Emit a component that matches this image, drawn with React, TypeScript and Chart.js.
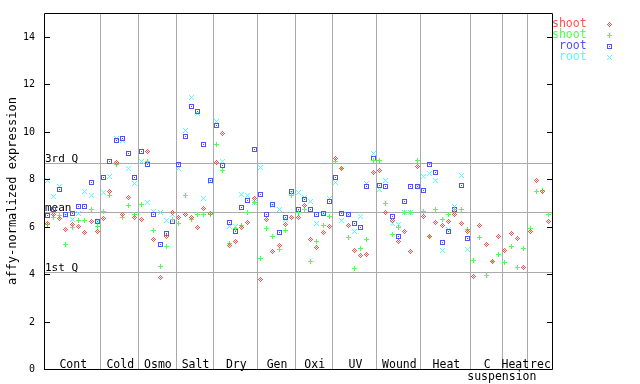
import React, { useEffect, useRef } from "react";
import { Chart, registerables } from "chart.js";
Chart.register(...registerables);

const groupLabels = ["Cont", "Cold", "Osmo", "Salt", "Dry", "Gen", "Oxi", "UV", "Wound", "Heat", "C", "Heat", "rec"];
const groupSizes = [9, 6, 6, 6, 7, 6, 6, 7, 7, 8, 5, 4, 4];
const subLabelGroup = 10;
const subLabel = "suspension";
const yTicks = [0, 2, 4, 6, 8, 10, 12, 14];
const quartileLabels = ["3rd Q", "mean", "1st Q"];
const quartileValues = [8.69, 6.62, 4.09];
const seriesNames = ["shoot", "shoot", "root", "root"];

const shootA = [
  6.15, 6.5, 6.35, 5.89, 6.1, 6.02, 5.76, 6.21, 5.79,
  6.33, 7.5, 8.72, 6.5, 7.24, 6.4,
  6.3, 9.17, 5.47, 3.84, 5.6, 6.6,
  6.4, 6.53, 6.4, 5.98, 6.78, 6.57,
  8.72, 9.94, 5.22, 5.39, 5.98, 6.19, 7.2,
  3.78, 6.29, 4.97, 5.19, 6.1, 6.4,
  6.4, 6.9, 5.47, 5.14, 5.77, 6.02,
  8.89, 8.43, 6.06, 5.01, 4.8, 4.84, 8.3,
  8.38, 6.61, 6.27, 5.39, 5.81, 4.97, 8.55,
  6.44, 5.6, 6.19, 6.06, 6.23, 6.49, 6.15, 5.81,
  3.91, 6.06, 5.26, 4.54, 5.6,
  5.01, 5.73, 5.51, 4.29,
  5.81, 7.96, 7.5, 6.23,
];
const shootB = [
  6.08, 6.38, 6.45, 5.26, 5.97, 6.26, 6.26, 6.7, 6.0,
  6.62, 7.29, 8.63, 6.4, 6.9, 6.5,
  6.95, 8.76, 5.83, 4.33, 5.18, 6.3,
  6.15, 7.33, 6.32, 6.49, 6.49, 6.53,
  9.48, 8.38, 5.3, 5.9, 6.06, 6.61, 7.03,
  4.67, 5.94, 5.6, 5.05, 5.85, 7.29,
  6.6, 6.7, 4.54, 5.39, 6.06, 6.44,
  8.76, 8.43, 5.56, 4.25, 5.09, 5.47, 8.8,
  8.8, 6.99, 5.68, 5.98, 6.6, 6.6, 8.8,
  6.65, 5.6, 6.7, 6.32, 6.49, 6.74, 6.74, 5.89,
  4.59, 5.56, 3.95, 4.54, 4.84,
  4.5, 5.18, 4.29, 5.09,
  5.94, 7.5, 7.54, 6.53,
];
const rootA = [
  6.45, 6.71, 7.55, 6.51, 6.55, 6.86, 6.83, 7.84, 6.21,
  8.05, 8.76, 9.63, 9.7, 9.06, 8.05,
  9.17, 8.63, 6.5, 5.26, 5.72, 6.23,
  8.63, 9.78, 11.04, 10.83, 9.48, 7.96,
  10.28, 8.58, 6.17, 5.81, 6.82, 7.12, 9.24,
  7.37, 6.49, 6.92, 5.77, 6.4, 7.5,
  6.74, 7.13, 6.7, 6.53, 6.57, 7.05,
  8.06, 6.54, 6.49, 6.15, 5.98, 7.71, 8.89,
  7.75, 7.71, 6.44, 5.6, 7.07, 7.71, 7.71,
  7.54, 8.63, 8.26, 5.35, 5.81, 6.74, 7.75, 5.51,
  null, null, null, null, null,
  null, null, null, null,
  null, null, null, null,
];
const rootB = [
  7.93, 7.27, 7.7, 6.45, 6.3, 6.56, 7.49, 7.32, 6.2,
  7.44, 8.13, 9.7, 9.63, 8.43, 7.8,
  8.76, 7.0, 6.65, 6.6, 6.27, 6.5,
  8.43, 10.03, 11.46, 10.75, 7.2, 7.9,
  10.41, 8.76, 6.0, 6.0, 7.37, 7.29, 7.0,
  8.47, 6.4, 6.9, 6.7, 6.3, 7.45,
  7.45, 7.24, 7.07, 6.15, 6.57, 7.2,
  7.86, 6.27, 6.5, 5.81, 6.44, 7.83, 9.1,
  7.58, 7.96, 6.15, 6.1, 6.61, 6.61, 7.71,
  8.13, 8.22, 7.96, 5.01, 5.89, 6.86, 8.17, 5.05,
  null, null, null, null, null,
  null, null, null, null,
  null, null, null, null,
];

const COLORS = ["#ff5050", "#50ff50", "#5050ff", "#50ffff"];
const PATTERNS = [
  ["..#..", ".#.#.", "#.#.#", ".#.#.", "..#.."],
  ["..#..", "..#..", "#####", "..#..", "..#.."],
  ["#####", "#...#", "#.#.#", "#...#", "#####"],
  ["#...#", ".#.#.", "..#..", ".#.#.", "#...#"],
];

function makeSprite(pattern: string[], color: string): HTMLCanvasElement {
  const c = document.createElement("canvas");
  c.width = pattern[0].length;
  c.height = pattern.length;
  const g = c.getContext("2d")!;
  g.fillStyle = color;
  pattern.forEach((row, j) => {
    for (let i = 0; i < row.length; i++) if (row[i] === "#") g.fillRect(i, j, 1, 1);
  });
  return c;
}

const MONO = "'DejaVu Sans Mono', monospace";

export default function App() {
  const ref = useRef<HTMLCanvasElement>(null);
  useEffect(() => {
    document.body.style.margin = "0";
    const sprites = PATTERNS.map((p, i) => makeSprite(p, COLORS[i]));
    const totalSlots = groupSizes.reduce((a, b) => a + b, 0);
    const bounds: number[] = [0];
    groupSizes.forEach((s) => bounds.push(bounds[bounds.length - 1] + s));
    const toPoints = (arr: (number | null)[]) =>
      arr.map((v, i) => (v == null ? null : { x: i + 0.5, y: v })).filter((p) => p) as { x: number; y: number }[];
    const all = [shootA, shootB, rootA, rootB];

    const overlay = {
      id: "overlay",
      beforeDatasetsDraw(chart: any) {
        const ctx = chart.ctx;
        const { left, right, top, bottom } = chart.chartArea;
        const xs = chart.scales.x;
        const ys = chart.scales.y;
        ctx.save();
        ctx.strokeStyle = "#aaaaaa";
        ctx.lineWidth = 1;
        for (let i = 1; i < bounds.length - 1; i++) {
          const px = Math.round(xs.getPixelForValue(bounds[i])) + 0.5;
          ctx.beginPath();
          ctx.moveTo(px, top);
          ctx.lineTo(px, bottom);
          ctx.stroke();
        }
        ctx.font = `11px ${MONO}`;
        ctx.fillStyle = "#000";
        ctx.textBaseline = "alphabetic";
        quartileValues.forEach((v, i) => {
          const py = Math.round(ys.getPixelForValue(v)) + 0.5;
          ctx.beginPath();
          ctx.moveTo(left, py);
          ctx.lineTo(right, py);
          ctx.stroke();
          ctx.textAlign = "left";
          ctx.fillText(quartileLabels[i], left + 1, py - 2);
        });
        ctx.restore();
        ctx.imageSmoothingEnabled = false;
      },
      afterDraw(chart: any) {
        const ctx = chart.ctx;
        const { left, right, top, bottom } = chart.chartArea;
        const xs = chart.scales.x;
        const ys = chart.scales.y;
        ctx.save();
        ctx.strokeStyle = "#000";
        ctx.lineWidth = 1;
        ctx.beginPath();
        ctx.rect(left + 0.5, top + 0.5, right - left, bottom - top);
        ctx.stroke();
        ctx.font = `10px ${MONO}`;
        ctx.fillStyle = "#000";
        ctx.textAlign = "right";
        ctx.textBaseline = "middle";
        yTicks.forEach((t) => {
          const py = Math.round(ys.getPixelForValue(t)) + 0.5;
          ctx.beginPath();
          ctx.moveTo(left, py);
          ctx.lineTo(left + 6, py);
          ctx.moveTo(right - 5, py);
          ctx.lineTo(right, py);
          ctx.stroke();
          ctx.fillText(String(t), left - 9, py);
        });
        ctx.save();
        ctx.translate(13, (top + bottom) / 2);
        ctx.rotate(-Math.PI / 2);
        ctx.textAlign = "center";
        ctx.textBaseline = "middle";
        ctx.font = `12px ${MONO}`;
        ctx.fillText("affy-normalized expression", 0, 0);
        ctx.restore();
        ctx.font = `11.5px ${MONO}`;
        ctx.textAlign = "center";
        ctx.textBaseline = "alphabetic";
        groupLabels.forEach((lab, i) => {
          const cx = (xs.getPixelForValue(bounds[i]) + xs.getPixelForValue(bounds[i + 1])) / 2;
          ctx.fillText(lab, cx + 1, bottom - 1);
        });
        const sx = xs.getPixelForValue(bounds[subLabelGroup + 1]);
        ctx.fillText(subLabel, sx, bottom + 11);
        ctx.font = `11.5px ${MONO}`;
        ctx.textAlign = "left";
        ctx.textBaseline = "middle";
        seriesNames.forEach((n, i) => {
          const y = top + 11 + i * 11;
          ctx.fillStyle = COLORS[i];
          ctx.fillText(n, i < 2 ? right : right + 7, y);
          ctx.drawImage(sprites[i], 607, Math.round(y) - 2);
        });
        ctx.restore();
      },
    };

    const chart = new Chart(ref.current!, {
      type: "scatter",
      data: {
        datasets: all.map((arr, i) => ({
          label: seriesNames[i],
          data: toPoints(arr),
          pointStyle: sprites[i] as any,
          pointRadius: 3,
          pointHoverRadius: 3,
          borderColor: COLORS[i],
          backgroundColor: COLORS[i],
          clip: false as any,
        })),
      },
      options: {
        animation: false,
        responsive: false,
        events: [],
        layout: { padding: { left: 44, right: 88, top: 13, bottom: 15 } },
        plugins: { legend: { display: false }, tooltip: { enabled: false } },
        scales: {
          x: { type: "linear", min: 0, max: totalSlots, display: false },
          y: { type: "linear", min: 0, max: 15, display: false },
        },
      },
      plugins: [overlay],
    });
    return () => chart.destroy();
  }, []);
  return <canvas ref={ref} width={640} height={384} style={{ display: "block" }} />;
}
